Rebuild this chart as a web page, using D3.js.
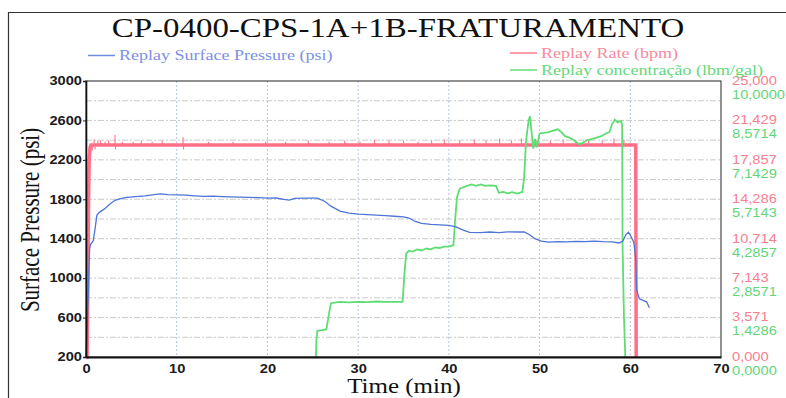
<!DOCTYPE html>
<html>
<head>
<meta charset="utf-8">
<script src="https://cdn.jsdelivr.net/npm/d3@7"></script>
<style>
  html, body { margin: 0; padding: 0; background: #fff; }
  svg { display: block; }
</style>
</head>
<body>
<svg id="chart"></svg>
<script>
// ---- data ----
// time in minutes, pressure in psi
const pressureData = [
  [0, 200], [0.1, 420], [0.2, 700], [0.3, 1000], [0.4, 1300], [0.5, 1340], [0.8, 1380],
  [1.0, 1500], [1.2, 1640], [1.5, 1670], [2, 1700], [2.6, 1750], [3.2, 1790], [3.7, 1805],
  [4.5, 1820], [5.5, 1828], [6.5, 1835], [7.5, 1848], [8.2, 1855], [9, 1848], [10, 1845],
  [11, 1842], [12, 1835], [13, 1830], [14, 1833], [15, 1828], [16, 1825], [17, 1822],
  [18, 1820], [19, 1816], [20, 1812], [21, 1813], [21.8, 1800], [22.4, 1792], [23, 1810],
  [24, 1812], [25.5, 1812], [26.3, 1780], [27, 1730], [28, 1680], [29, 1660], [30, 1650],
  [31, 1645], [32, 1640], [33, 1635], [34, 1628], [35, 1622], [35.6, 1610], [36.3, 1575],
  [37, 1555], [38, 1545], [39, 1540], [40, 1535], [40.8, 1520], [41.5, 1490], [42.3, 1465],
  [43.5, 1462], [44.5, 1468], [45.5, 1462], [46.5, 1470], [47.5, 1468], [48.3, 1470],
  [48.9, 1440], [49.5, 1400], [50.2, 1375], [51, 1365], [52, 1370], [53, 1368], [54, 1372],
  [55, 1370], [56, 1375], [57, 1370], [58, 1368], [58.8, 1357], [59.2, 1380], [59.5, 1440],
  [59.8, 1466], [60.1, 1420], [60.4, 1360], [60.6, 1200], [60.7, 880], [61.0, 790],
  [61.4, 775], [61.8, 760], [62.1, 700]
];

// pump rate, bpm
const rateData = [
  [0, 0], [0.12, 0], [0.2, 6], [0.28, 14], [0.35, 17.8], [0.45, 19.0], [0.55, 19.2],
  [60.6, 19.2], [60.65, 0]
];

// short noise spikes on the rate trace: [time, bpm]
const rateSpikes = [
  [0.7, 18.7], [0.9, 19.7], [1.0, 18.8], [1.3, 19.6], [1.6, 19.6], [2.1, 19.5], [2.5, 19.6],
  [3.2, 20.1], [3.25, 18.8], [4.0, 19.5], [5.2, 19.5], [6.1, 19.6], [7.3, 19.5], [8.4, 19.6],
  [10.7, 19.9], [10.75, 18.8], [13.5, 19.5], [16.2, 19.5], [19.8, 19.5], [22.0, 19.5],
  [24.5, 19.6], [26.8, 19.5], [28.5, 19.6], [30.2, 19.5], [31.8, 19.7], [33.4, 19.6],
  [35.0, 19.6], [36.6, 19.5], [38.1, 19.6], [39.5, 19.7], [41.2, 19.6], [42.8, 19.7],
  [44.1, 19.6], [45.6, 19.8], [46.9, 19.6], [48.0, 19.8], [49.6, 19.7], [51.2, 19.6],
  [52.6, 19.7], [54.0, 19.6], [55.4, 19.7], [56.9, 19.6], [58.2, 19.8], [59.3, 19.7]
];

// proppant concentration, lbm/gal
const concData = [
  [25.35, 0], [25.4, 0.6], [25.5, 0.95], [26.0, 0.97], [26.5, 1.0], [26.8, 1.6], [27.0, 1.95],
  [28, 2.0], [29, 1.98], [30, 2.0], [31, 1.99], [32, 2.01], [33, 2.0], [34, 2.0], [34.9, 2.0],
  [35.1, 3.0], [35.3, 3.75], [35.6, 3.85], [36, 3.82], [36.5, 3.9], [37, 3.86], [37.5, 3.93],
  [38, 3.9], [38.5, 3.97], [39, 3.95], [39.5, 4.0], [40, 4.0], [40.5, 4.05], [40.7, 5.0],
  [40.9, 5.8], [41.2, 6.1], [41.6, 6.15], [42, 6.2], [42.5, 6.25], [43, 6.2], [43.5, 6.25],
  [44, 6.2], [44.5, 6.22], [45.2, 6.2], [45.5, 5.95], [46, 5.98], [46.5, 5.93], [47, 5.97],
  [47.5, 5.92], [48.1, 5.98], [48.3, 6.5], [48.5, 7.8], [48.8, 8.6], [48.95, 8.72],
  [49.1, 8.2], [49.3, 7.55], [49.5, 7.9], [49.7, 7.6], [50.0, 8.1], [50.5, 8.12], [51, 8.15],
  [51.5, 8.2], [52, 8.25], [52.4, 8.15], [52.8, 8.0], [53.3, 7.95], [53.8, 7.85],
  [54.3, 7.72], [54.7, 7.75], [55.2, 7.85], [55.8, 7.9], [56.3, 7.95], [56.8, 8.0],
  [57.3, 8.1], [57.7, 8.15], [58, 8.45], [58.3, 8.6], [58.6, 8.5], [59.0, 8.55], [59.1, 8.4],
  [59.15, 4], [59.3, 1.5], [59.45, 0]
];

const timeTicks = [0, 10, 20, 30, 40, 50, 60, 70];
const pressureTicks = [200, 600, 1000, 1400, 1800, 2200, 2600, 3000];
const rateTicks = [0, 3.571, 7.143, 10.714, 14.286, 17.857, 21.429, 25];
const concTicks = [0, 1.4286, 2.8571, 4.2857, 5.7143, 7.1429, 8.5714, 10];

class FracChart {

  constructor(_config) {
    this.config = {
      parentElement: _config.parentElement,
      containerWidth: _config.containerWidth || 786,
      containerHeight: _config.containerHeight || 398,
      margin: _config.margin || {top: 81, right: 65, bottom: 41, left: 86}
    };
    this.initVis();
  }

  // stretch text sideways, the scan is wider than a plain font
  stretch(sel, k) {
    sel.each(function() {
      const w = this.getComputedTextLength();
      d3.select(this).attr('textLength', w * k).attr('lengthAdjust', 'spacingAndGlyphs');
    });
  }

  initVis() {
    let vis = this;
    const m = vis.config.margin;
    vis.width = vis.config.containerWidth - m.left - m.right;
    vis.height = vis.config.containerHeight - m.top - m.bottom;

    vis.svg = d3.select(vis.config.parentElement)
        .attr('width', vis.config.containerWidth)
        .attr('height', vis.config.containerHeight);

    vis.svg.append('rect')
        .attr('width', vis.config.containerWidth)
        .attr('height', vis.config.containerHeight)
        .attr('fill', '#fff');

    // outer frame of the printed page
    vis.svg.append('path')
        .attr('d', 'M8.5,398V12.5H786')
        .attr('fill', 'none')
        .attr('stroke', '#333')
        .attr('stroke-width', 1.2);

    vis.chart = vis.svg.append('g')
        .attr('transform', `translate(${m.left},${m.top})`);

    vis.x = d3.scaleLinear().domain([0, 70]).range([0, vis.width]);
    vis.yP = d3.scaleLinear().domain([200, 3000]).range([vis.height, 0]);
    vis.yR = d3.scaleLinear().domain([0, 25]).range([vis.height, 0]);
    vis.yC = d3.scaleLinear().domain([0, 10]).range([vis.height, 0]);

    vis.renderVis();
  }

  renderVis() {
    let vis = this;
    const serif = '"Liberation Serif", "Times New Roman", serif';
    const sans = '"Liberation Sans", Arial, sans-serif';

    // grid
    vis.chart.append('g')
        .selectAll('line')
        .data(d3.range(400, 3000, 200))
        .join('line')
          .attr('x1', 0).attr('x2', vis.width)
          .attr('y1', d => vis.yP(d)).attr('y2', d => vis.yP(d))
          .attr('stroke', '#c4c4c4')
          .attr('stroke-width', 0.9)
          .attr('stroke-dasharray', '6,2,2,2');

    vis.chart.append('g')
        .selectAll('line')
        .data(timeTicks.slice(1, -1))
        .join('line')
          .attr('x1', d => vis.x(d)).attr('x2', d => vis.x(d))
          .attr('y1', 0).attr('y2', vis.height)
          .attr('stroke', '#b4c6de')
          .attr('stroke-width', 1)
          .attr('stroke-dasharray', '2,2');

    // series
    const line = (y) => d3.line().x(d => vis.x(d[0])).y(d => y(d[1]));

    vis.chart.append('g')
        .selectAll('line')
        .data(rateSpikes)
        .join('line')
          .attr('x1', d => vis.x(d[0])).attr('x2', d => vis.x(d[0]))
          .attr('y1', vis.yR(19.2)).attr('y2', d => vis.yR(d[1]))
          .attr('stroke', '#ff7d92')
          .attr('stroke-width', 1.2);

    vis.chart.append('path')
        .datum(rateData)
        .attr('d', line(vis.yR))
        .attr('fill', 'none')
        .attr('stroke', '#ff6f88')
        .attr('stroke-width', 3.5);

    vis.chart.append('path')
        .datum(concData)
        .attr('d', line(vis.yC))
        .attr('fill', 'none')
        .attr('stroke', '#5fdc73')
        .attr('stroke-width', 1.8);

    vis.chart.append('path')
        .datum(pressureData)
        .attr('d', line(vis.yP))
        .attr('fill', 'none')
        .attr('stroke', '#4e74d8')
        .attr('stroke-width', 1.3);

    // plot frame
    vis.chart.append('rect')
        .attr('width', vis.width).attr('height', vis.height)
        .attr('fill', 'none')
        .attr('stroke', '#222')
        .attr('stroke-width', 1);

    // axes
    const xAxis = vis.chart.append('g')
        .attr('transform', `translate(0,${vis.height})`)
        .call(d3.axisBottom(vis.x).tickValues(timeTicks).tickSize(0).tickPadding(7)
          .tickFormat(d3.format('d')));
    xAxis.select('.domain').attr('stroke', '#111').attr('stroke-width', 2);

    const yAxis = vis.chart.append('g')
        .call(d3.axisLeft(vis.yP).tickValues(pressureTicks).tickSize(3).tickPadding(1)
          .tickFormat(d3.format('d')));
    yAxis.select('.domain').attr('stroke', '#111').attr('stroke-width', 1.6);

    [xAxis, yAxis].forEach(a => {
      a.selectAll('.tick line').attr('stroke', '#222');
      a.selectAll('text')
          .attr('font-family', sans)
          .attr('font-size', 12)
          .attr('font-weight', 'bold')
          .attr('fill', '#1a1a1a');
      vis.stretch(a.selectAll('text'), 1.22);
    });

    const comma = (n, p) => d3.format(`.${p}f`)(n).replace('.', ',');

    const rAxis = vis.chart.append('g')
        .attr('transform', `translate(${vis.width + 11},-0.5)`)
        .call(d3.axisRight(vis.yR).tickValues(rateTicks).tickSize(0).tickPadding(0)
          .tickFormat(d => comma(d, 3)));
    const cAxis = vis.chart.append('g')
        .attr('transform', `translate(${vis.width + 11},13.5)`)
        .call(d3.axisRight(vis.yC).tickValues(concTicks).tickSize(0).tickPadding(0)
          .tickFormat(d => comma(d, 4)));

    [[rAxis, '#f7808f'], [cAxis, '#64d676']].forEach(([a, c]) => {
      a.select('.domain').remove();
      a.selectAll('text')
          .attr('font-family', sans)
          .attr('font-size', 12)
          .attr('fill', c);
      vis.stretch(a.selectAll('text'), 1.22);
    });

    // titles
    const title = vis.svg.append('text')
        .attr('x', 398).attr('y', 36.5)
        .attr('text-anchor', 'middle')
        .attr('font-family', serif)
        .attr('font-size', 27)
        .attr('fill', '#111')
        .text('CP-0400-CPS-1A+1B-FRATURAMENTO');
    vis.stretch(title, 1.22);

    const xt = vis.svg.append('text')
        .attr('x', 404).attr('y', 392.5)
        .attr('text-anchor', 'middle')
        .attr('font-family', serif)
        .attr('font-size', 20)
        .attr('fill', '#111')
        .text('Time (min)');
    vis.stretch(xt, 1.25);

    vis.svg.append('text')
        .attr('transform', 'translate(38.5,220) scale(1.25,1) rotate(-90)')
        .attr('text-anchor', 'middle')
        .attr('font-family', serif)
        .attr('font-size', 21)
        .attr('fill', '#111')
        .text('Surface Pressure (psi)');

    // legend
    const legend = [
      {label: 'Replay Surface Pressure (psi)', x: 88, y: 55.5, line: '#6f8ce2', text: '#7b90e4'},
      {label: 'Replay Rate (bpm)', x: 510, y: 53, line: '#ff7d92', text: '#f78a9b'},
      {label: 'Replay concentração (lbm/gal)', x: 510, y: 70, line: '#6bdc7d', text: '#66d87a'}
    ];
    const lg = vis.svg.append('g')
        .selectAll('g')
        .data(legend)
        .join('g')
          .attr('transform', d => `translate(${d.x},${d.y})`);
    lg.append('line')
        .attr('x1', 0).attr('x2', 27)
        .attr('stroke', d => d.line)
        .attr('stroke-width', 1.5);
    const lt = lg.append('text')
        .attr('x', 31).attr('y', 4.5)
        .attr('font-family', serif)
        .attr('font-size', 15)
        .attr('fill', d => d.text)
        .text(d => d.label);
    vis.stretch(lt, 1.2);
  }
}

new FracChart({parentElement: '#chart'});
</script>
</body>
</html>
